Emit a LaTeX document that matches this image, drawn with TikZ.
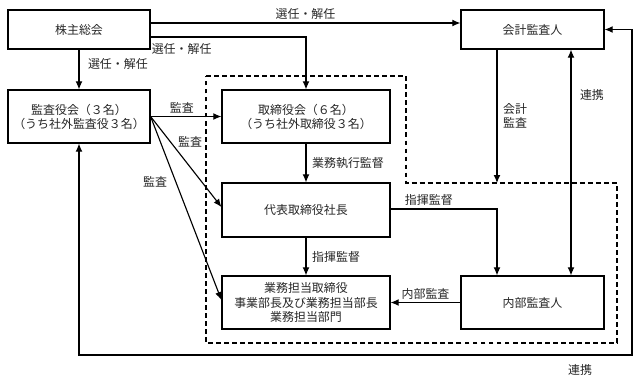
\documentclass[tikz,border=0pt]{standalone}
\usepackage{fontspec}
\setmainfont{Noto Sans CJK JP}
\usepackage{tikz}
\usepackage{xcolor}
\usetikzlibrary{arrows.meta, calc}

\begin{document}
\begin{tikzpicture}[
  x=0.025cm, y=-0.025cm,
  box/.style={draw, thick, inner sep=0pt, align=center, text=black!85, font=\fontsize{8.5}{10}\selectfont},
  lbl/.style={text=black!85, font=\fontsize{8.5}{10}\selectfont, inner sep=2pt},
  arr/.style={-{Latex[length=2mm, width=1.7mm]}, thick},
  biarr/.style={{Latex[length=2mm, width=1.7mm]}-{Latex[length=2mm, width=1.7mm]}, thick},
  region/.style={thick, dash pattern=on 3.5pt off 2.2pt}
]
  \useasboundingbox (0,0) rectangle (640,383);

  \node[box, minimum width=3.55cm, minimum height=0.975cm] (kabu) at (79,29.5) {株主総会};
  \node[box, minimum width=3.575cm, minimum height=0.975cm] (kaikei) at (532.5,29.5) {会計監査人};
  \node[box, minimum width=3.55cm, minimum height=1.325cm] (kansa) at (79,116.5) {監査役会（３名）\\（うち社外監査役３名）};
  \node[box, minimum width=4.2cm, minimum height=1.325cm] (torishimari) at (306,116.5) {取締役会（６名）\\（うち社外取締役３名）};
  \node[box, minimum width=4.2cm, minimum height=1.35cm] (daihyo) at (306,210) {代表取締役社長};
  \node[box, minimum width=4.2cm, minimum height=1.325cm] (gyomu) at (306,302.5) {業務担当取締役\\事業部長及び業務担当部長\\業務担当部門};
  \node[box, minimum width=3.575cm, minimum height=1.325cm] (naibu) at (532.5,302.5) {内部監査人};

  % execution area
  \coordinate (ra) at (206,76);
  \coordinate (rb) at (406,183);
  \coordinate (rc) at (617,343);
  \draw[region] (ra) -- (ra -| rb) -- (rb) -- (rb -| rc) -- (rc) -- (rc -| ra) -- cycle;

  \draw[arr] ($(kabu.east)+(0,-6.5)$) -- ($(kaikei.west)+(0,-6.5)$)
    node[lbl, midway, above] {選任・解任};
  \draw[arr] ($(kabu.east)+(0,7.5)$) -| (torishimari.north)
    node[lbl, pos=0.1, below, yshift=-2pt] {選任・解任};
  \draw[arr] (kabu) -- (kansa) node[lbl, pos=0.35, right, xshift=4pt] {選任・解任};

  \draw[arr] (kansa.east) -- (torishimari.west) node[lbl, midway, above, xshift=-3pt] {監査};
  \draw[arr] (kansa.east) -- ($(daihyo.west)+(0,-3)$);
  \draw[arr] (kansa.east) -- ($(gyomu.west)+(0,-2.5)$);
  \node[lbl] (m1) at (190,142) {監査};
  \node[lbl] (m2) at (155,182) {監査};

  \draw[arr] (torishimari) -- (daihyo) node[lbl, midway, right, xshift=2pt] {業務執行監督};
  \draw[arr] (daihyo) -- (gyomu) node[lbl, midway, right, xshift=2pt] {指揮監督};
  \draw[arr] ($(daihyo.east)+(0,-1)$) -| ($(naibu.north)+(-35.5,0)$)
    node[lbl, pos=0.18, above] {指揮監督};
  \draw[arr] (naibu.west) -- (gyomu.east) node[lbl, midway, above] {内部監査};

  \coordinate (ka) at ($(kaikei.south)+(-35.5,0)$);
  \draw[arr] (ka) -- (ka |- rb)
    node[lbl, midway, right, align=left, xshift=2pt] {会計\\監査};
  \draw[biarr] ($(kaikei.south)+(38.5,0)$) -- ($(naibu.north)+(38.5,0)$)
    node[lbl, pos=0.2, right, xshift=4pt] {連携};

  \coordinate (loop) at (632,355);
  \draw[biarr] (kansa.south) |- (loop) |- (kaikei.east);
  \node[lbl] (m3) at (580,370) {連携};
\end{tikzpicture}
\end{document}
